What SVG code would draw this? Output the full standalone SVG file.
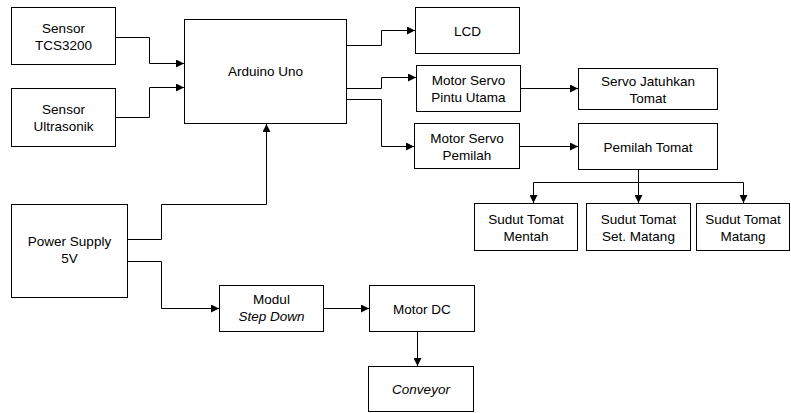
<svg xmlns="http://www.w3.org/2000/svg" width="791" height="413" viewBox="0 0 791 413">
<style>
.box{fill:#fff;stroke:#000;stroke-width:1}
.t{font-family:"Liberation Sans",Arial,sans-serif;font-size:13.5px;fill:#000;text-anchor:middle}
.i{font-style:italic}
.c{fill:none;stroke:#000;stroke-width:1}
</style>
<defs>
<marker id="a" markerUnits="userSpaceOnUse" markerWidth="9" markerHeight="8" refX="8" refY="4" orient="auto">
<path d="M0,0 L8,4 L0,8 z" fill="#000"/>
</marker>
</defs>
<rect width="791" height="413" fill="#fff"/>
<g id="connectors">
<path class="c" marker-end="url(#a)" d="M115.5 37.5 H149.5 V63.5 H184"/>
<path class="c" marker-end="url(#a)" d="M115.5 117.5 H149.5 V87.5 H184"/>
<path class="c" marker-end="url(#a)" d="M346.5 45.5 H381.5 V30.5 H415"/>
<path class="c" marker-end="url(#a)" d="M346.5 88.5 H381.5 V77.5 H416"/>
<path class="c" marker-end="url(#a)" d="M346.5 99.5 H381.5 V146.5 H414"/>
<path class="c" marker-end="url(#a)" d="M520.5 88.5 H578"/>
<path class="c" marker-end="url(#a)" d="M519.5 146.5 H578"/>
<path class="c" d="M638.5 169.5 V182.5"/>
<path class="c" marker-end="url(#a)" d="M638.5 182.5 H533.5 V203"/>
<path class="c" marker-end="url(#a)" d="M638.5 182.5 V203"/>
<path class="c" marker-end="url(#a)" d="M638.5 182.5 H743.5 V203"/>
<path class="c" marker-end="url(#a)" d="M127.5 239.5 H161.5 V204.5 H266.5 V124"/>
<path class="c" marker-end="url(#a)" d="M127.5 261.5 H161.5 V308.5 H219"/>
<path class="c" marker-end="url(#a)" d="M323.5 308.5 H369"/>
<path class="c" marker-end="url(#a)" d="M417.5 331.5 V366"/>
</g>
<g id="sensor-tcs"><rect class="box" x="11.5" y="7.5" width="104" height="57"/><text class="t" x="63.5" y="32.5">Sensor</text><text class="t" x="63.5" y="49.5">TCS3200</text></g>
<g id="sensor-ultra"><rect class="box" x="11.5" y="88.5" width="104" height="58"/><text class="t" x="63.5" y="113.5">Sensor</text><text class="t" x="63.5" y="130.5">Ultrasonik</text></g>
<g id="arduino"><rect class="box" x="184.5" y="19.5" width="162" height="104"/><text class="t" x="265.5" y="76">Arduino Uno</text></g>
<g id="lcd"><rect class="box" x="415.5" y="7.5" width="104" height="46"/><text class="t" x="467.5" y="35.5">LCD</text></g>
<g id="servo-pintu"><rect class="box" x="416.5" y="65.5" width="104" height="46"/><text class="t" x="468.5" y="85">Motor Servo</text><text class="t" x="468.5" y="102">Pintu Utama</text></g>
<g id="servo-pemilah"><rect class="box" x="414.5" y="123.5" width="105" height="45"/><text class="t" x="467" y="143">Motor Servo</text><text class="t" x="467" y="160">Pemilah</text></g>
<g id="servo-jatuh"><rect class="box" x="578.5" y="68.5" width="139" height="41"/><text class="t" x="648" y="85.5">Servo Jatuhkan</text><text class="t" x="648" y="102.5">Tomat</text></g>
<g id="pemilah-tomat"><rect class="box" x="578.5" y="123.5" width="139" height="46"/><text class="t" x="648" y="151.5">Pemilah Tomat</text></g>
<g id="sudut-mentah"><rect class="box" x="474.5" y="203.5" width="103" height="47"/><text class="t" x="526" y="223.5">Sudut Tomat</text><text class="t" x="526" y="240.5">Mentah</text></g>
<g id="sudut-set"><rect class="box" x="586.5" y="203.5" width="104" height="47"/><text class="t" x="638.5" y="223.5">Sudut Tomat</text><text class="t" x="638.5" y="240.5">Set. Matang</text></g>
<g id="sudut-matang"><rect class="box" x="696.5" y="203.5" width="93" height="47"/><text class="t" x="743" y="223.5">Sudut Tomat</text><text class="t" x="743" y="240.5">Matang</text></g>
<g id="power"><rect class="box" x="11.5" y="204.5" width="116" height="93"/><text class="t" x="69.5" y="246">Power Supply</text><text class="t" x="69.5" y="263">5V</text></g>
<g id="stepdown"><rect class="box" x="219.5" y="285.5" width="104" height="46"/><text class="t" x="271.5" y="304">Modul</text><text class="t i" x="271.5" y="321">Step Down</text></g>
<g id="motordc"><rect class="box" x="369.5" y="285.5" width="105" height="46"/><text class="t" x="422" y="313.5">Motor DC</text></g>
<g id="conveyor"><rect class="box" x="368.5" y="366.5" width="105" height="45"/><text class="t i" x="421" y="394">Conveyor</text></g>
</svg>
